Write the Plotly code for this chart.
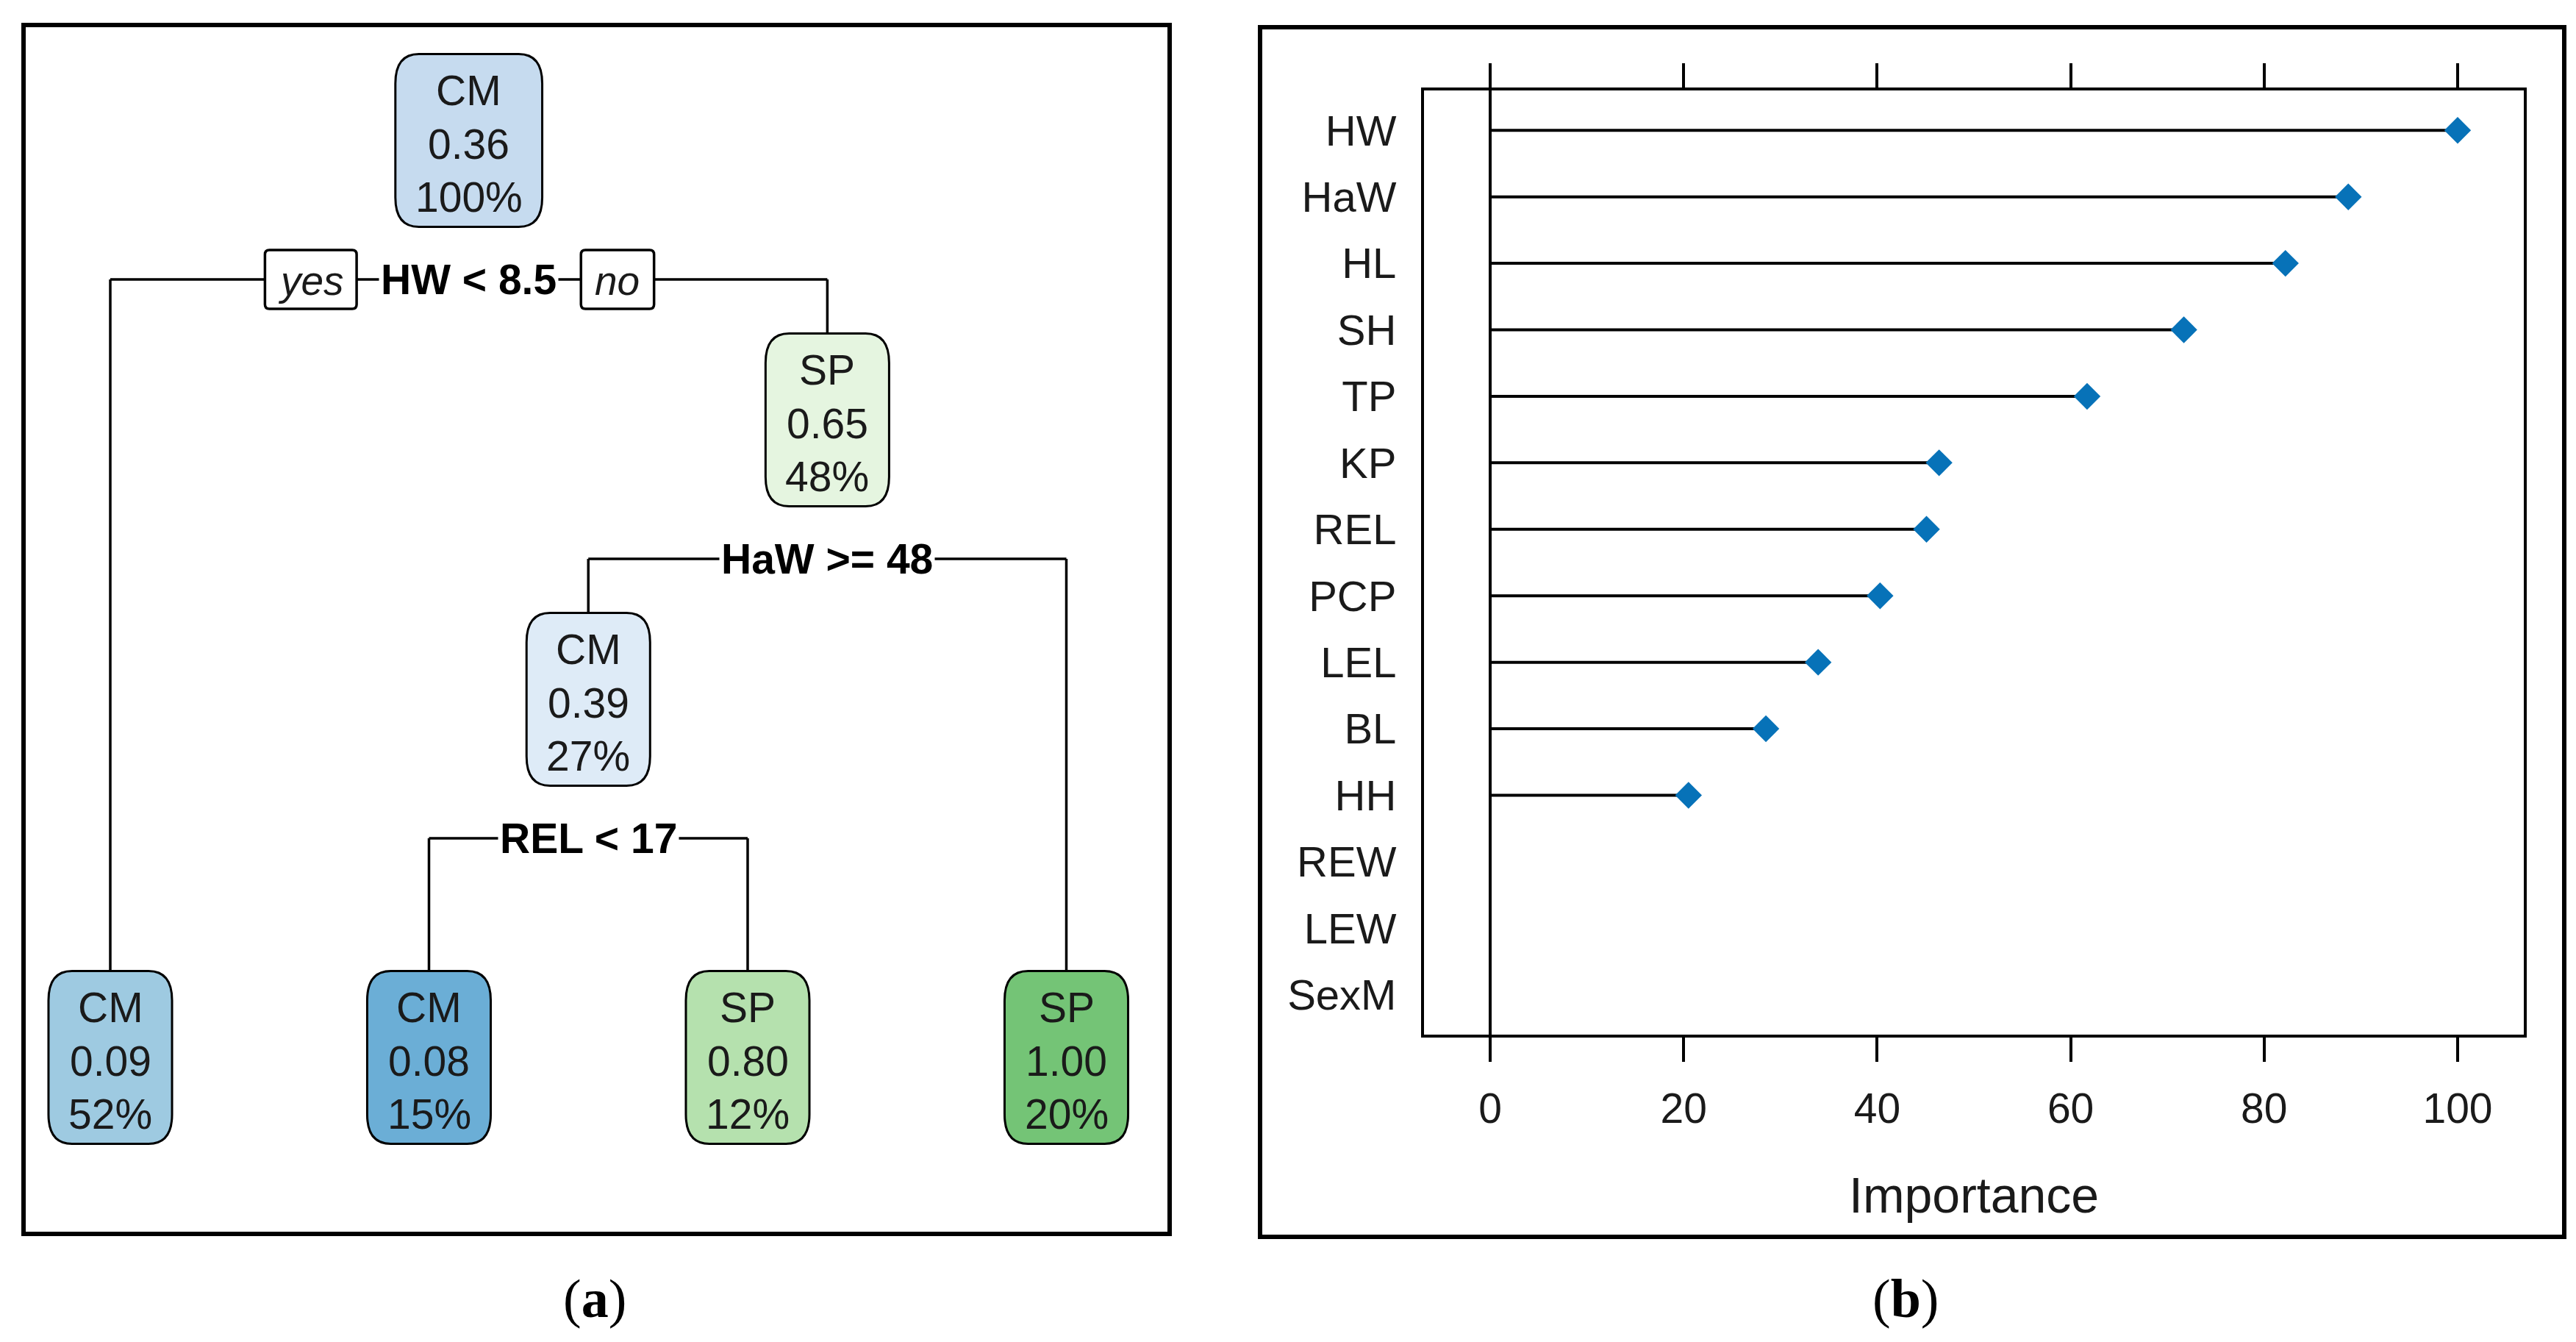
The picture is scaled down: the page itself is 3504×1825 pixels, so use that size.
import plotly.graph_objects as go

# ---------------- data ----------------
# (a) classification tree (rpart numbering)
node_ids = [1, 2, 3, 6, 7, 12, 13]
node_class = ["CM", "CM", "SP", "CM", "SP", "CM", "SP"]
node_prob = [0.36, 0.09, 0.65, 0.39, 1.00, 0.08, 0.80]
node_pct = [100, 52, 48, 27, 20, 15, 12]
node_fill = ["#C6DBEF", "#9ECAE1", "#E5F5E0", "#DEEBF7", "#74C476", "#6BAED6", "#B5E1AE"]
split_nodes = [1, 3, 6]
split_text = ["HW < 8.5", "HaW >= 48", "REL < 17"]

# (b) variable importance
variables = ["HW", "HaW", "HL", "SH", "TP", "KP", "REL", "PCP", "LEL", "BL", "HH", "REW", "LEW", "SexM"]
importance = [100, 88.7, 82.2, 71.7, 61.7, 46.4, 45.1, 40.3, 33.9, 28.5, 20.5, None, None, None]
x_ticks = [0, 20, 40, 60, 80, 100]

# ---------------- helpers ----------------
FONT = "Liberation Sans, Arial, sans-serif"
W_REG = {"0": 556, "1": 556, "2": 556, "3": 556, "4": 556, "5": 556, "6": 556, "7": 556,
         "8": 556, "9": 556, ".": 278, "%": 889, "C": 722, "M": 833, "S": 667, "P": 667}
W_BOLD = {"H": 722, "W": 944, " ": 278, "<": 584, ">": 584, "=": 584, "a": 556, "R": 722,
          "E": 667, "L": 611, ".": 278}
W_IT = {"y": 500, "e": 556, "s": 500, "n": 556, "o": 556}


def tw(s, table, size):
    return sum(table.get(c, 556) for c in s) / 1000.0 * size


def rrect(x0, y0, x1, y1, rx, ry):
    return (f"M{x0+rx},{y0} L{x1-rx},{y0} Q{x1},{y0} {x1},{y0+ry} "
            f"L{x1},{y1-ry} Q{x1},{y1} {x1-rx},{y1} L{x0+rx},{y1} "
            f"Q{x0},{y1} {x0},{y1-ry} L{x0},{y0+ry} Q{x0},{y0} {x0+rx},{y0} Z")


# page is 3504x1825 with an 8px body margin around the figure
PAGE_W, PAGE_H, OFF = 3504, 1825, 8
W, H = PAGE_W - 2 * OFF, PAGE_H - 2 * OFF

FS = 57
# tree layout (page pixel space)
LEAF_X0, LEAF_DX = 150, 433.5
ROOT_Y, DEPTH_DY, LEAF_Y = 191, 380, 1438
SPLIT_DY = 189
BOX_H, BOX_PAD = 235, 54

info = {nid: dict(cls=c, prob=p, pct=q, fill=f)
        for nid, c, p, q, f in zip(node_ids, node_class, node_prob, node_pct, node_fill)}
idset = set(node_ids)
leaves = []


def collect(n):
    if 2 * n in idset:
        collect(2 * n)
        collect(2 * n + 1)
    else:
        leaves.append(n)


collect(1)
pos = {}
for i, n in enumerate(leaves):
    pos[n] = (LEAF_X0 + i * LEAF_DX, LEAF_Y)


def place(n, depth):
    if n in pos:
        return pos[n][0]
    xl = place(2 * n, depth + 1)
    xr = place(2 * n + 1, depth + 1)
    pos[n] = ((xl + xr) / 2, ROOT_Y + depth * DEPTH_DY)
    return pos[n][0]


place(1, 0)

shapes = []
annotations = []
LINE = dict(color="black", width=3.5)

# connecting lines
for n, s in zip(split_nodes, split_text):
    x, y = pos[n]
    ys = y + SPLIT_DY
    xl = pos[2 * n][0]
    xr = pos[2 * n + 1][0]
    shapes.append(dict(type="line", xref="x2", yref="y2", x0=xl, x1=xr, y0=ys, y1=ys, line=LINE, layer="above"))
    for c in (2 * n, 2 * n + 1):
        cx, cy = pos[c]
        shapes.append(dict(type="line", xref="x2", yref="y2", x0=cx, x1=cx, y0=ys,
                           y1=cy - BOX_H / 2, line=LINE, layer="above"))

# node boxes & text
for n in node_ids:
    x, y = pos[n]
    d = info[n]
    lines = [d["cls"], f"{d['prob']:.2f}", f"{d['pct']}%"]
    w = max(tw(t, W_REG, FS) for t in lines) + BOX_PAD
    shapes.append(dict(type="path", xref="x2", yref="y2",
                       path=rrect(x - w / 2, y - BOX_H / 2, x + w / 2, y + BOX_H / 2, 32, 40),
                       fillcolor=d["fill"], line=dict(color="black", width=3), layer="above"))
    for t, off in zip(lines, [-68, 5, 77]):
        annotations.append(dict(x=x, y=y + off, xref="x2", yref="y2", text=t, showarrow=False,
                                xanchor="center", yanchor="middle",
                                font=dict(family=FONT, size=FS, color="#1a1a1a")))

# split labels
for n, s in zip(split_nodes, split_text):
    x, y = pos[n]
    ys = y + SPLIT_DY
    annotations.append(dict(x=x, y=ys, xref="x2", yref="y2", text=f"<b>{s}</b>", showarrow=False,
                            xanchor="center", yanchor="middle", bgcolor="white", borderpad=2,
                            font=dict(family=FONT, size=FS, color="black")))
    if n == 1:
        lw = tw(s, W_BOLD, FS)
        gap = 33
        for word, side in (("yes", -1), ("no", 1)):
            bw = tw(word, W_IT, FS) + 36
            if side < 0:
                bx1 = x - lw / 2 - gap
                bx0 = bx1 - bw
            else:
                bx0 = x + lw / 2 + gap
                bx1 = bx0 + bw
            shapes.append(dict(type="path", xref="x2", yref="y2",
                               path=rrect(bx0, ys - 40, bx1, ys + 40, 6, 6),
                               fillcolor="white", line=dict(color="black", width=3.5), layer="above"))
            annotations.append(dict(x=(bx0 + bx1) / 2, y=ys + 2, xref="x2", yref="y2",
                                    text=f"<i>{word}</i>", showarrow=False,
                                    xanchor="center", yanchor="middle",
                                    font=dict(family=FONT, size=FS - 2, color="#1a1a1a")))

# panel frames
shapes.append(dict(type="rect", xref="x2", yref="y2", x0=32, x1=1591, y0=34, y1=1678,
                   line=dict(color="black", width=6), layer="above"))
shapes.append(dict(type="rect", xref="x2", yref="y2", x0=1714, x1=3488, y0=37, y1=1682,
                   line=dict(color="black", width=6), layer="above"))

# captions
SERIF = "Liberation Serif, Times New Roman, serif"
annotations.append(dict(x=809, y=1766, xref="x2", yref="y2", text="(<b>a</b>)", showarrow=False,
                        font=dict(family=SERIF, size=74, color="black")))
annotations.append(dict(x=2592, y=1766, xref="x2", yref="y2", text="(<b>b</b>)", showarrow=False,
                        font=dict(family=SERIF, size=74, color="black")))
annotations.append(dict(x=2685, y=1625, xref="x2", yref="y2", text="Importance", showarrow=False,
                        font=dict(family=FONT, size=68, color="#1a1a1a")))

# ---------------- figure ----------------
fig = go.Figure()

rows = list(range(1, len(variables) + 1))
seg_x, seg_y, mk_x, mk_y = [], [], [], []
for r, v in zip(rows, importance):
    if v is None:
        continue
    seg_x += [0, v, None]
    seg_y += [r, r, None]
    mk_x.append(v)
    mk_y.append(r)

fig.add_trace(go.Scatter(x=seg_x, y=seg_y, mode="lines", line=dict(color="black", width=4),
                         hoverinfo="skip", showlegend=False, xaxis="x", yaxis="y"))
fig.add_trace(go.Scatter(x=mk_x, y=mk_y, mode="markers",
                         marker=dict(symbol="diamond", size=28, color="#0772B8"),
                         showlegend=False, xaxis="x", yaxis="y"))


def fx(p):
    return (p - OFF) / W


def fy(p):
    return 1 - (p - OFF) / H


fig.update_layout(
    width=W, height=H, margin=dict(l=0, r=0, t=0, b=0),
    paper_bgcolor="white", plot_bgcolor="rgba(0,0,0,0)",
    shapes=shapes, annotations=annotations,
    xaxis=dict(domain=[fx(1937), fx(3433)], range=[-6.84, 106.84], anchor="y",
               showgrid=False, zeroline=True, zerolinecolor="black", zerolinewidth=4,
               showline=True, linecolor="black", linewidth=4, mirror="ticks",
               ticks="outside", ticklen=33, tickwidth=4, tickcolor="black",
               tickvals=x_ticks, ticktext=[str(t) for t in x_ticks],
               tickfont=dict(family=FONT, size=57, color="#1a1a1a"), ticklabelstandoff=15),
    yaxis=dict(domain=[fy(1407), fy(123)], range=[14.6, 0.4], anchor="x",
               showgrid=False, zeroline=False,
               showline=True, linecolor="black", linewidth=4, mirror=True, ticks="",
               tickvals=rows, ticktext=variables,
               tickfont=dict(family=FONT, size=58, color="#1a1a1a"), ticklabelstandoff=22),
    xaxis2=dict(domain=[0, 1], range=[OFF, OFF + W], anchor="y2", visible=False, fixedrange=True),
    yaxis2=dict(domain=[0, 1], range=[OFF + H, OFF], anchor="x2", visible=False, fixedrange=True),
)

fig.write_html("out.html")
